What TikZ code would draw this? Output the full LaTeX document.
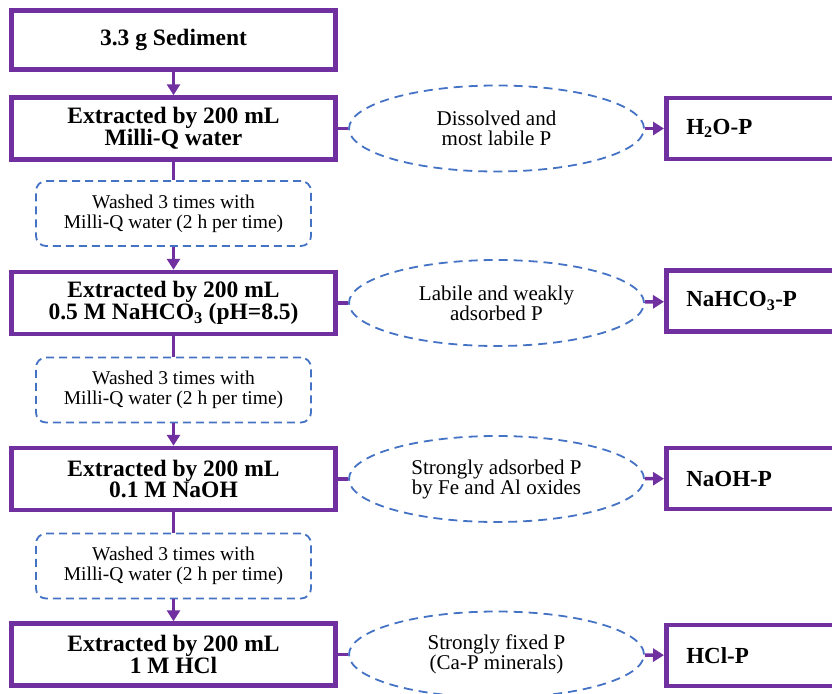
\documentclass[tikz,border=0pt]{standalone}
\usepackage{fontspec}
\setmainfont{Liberation Serif}
\usetikzlibrary{shapes,arrows.meta}
\definecolor{purp}{HTML}{7030A0}
\definecolor{dashblue}{HTML}{4472C4}
\tikzset{
  extbox/.style={draw=purp,line width=4.5pt,fill=white,minimum width=324pt,minimum height=62pt,align=center,font=\fontsize{23.5}{20.5}\selectfont\bfseries},
  washbox/.style={draw=dashblue,line width=1.8pt,dash pattern=on 8pt off 5pt,rounded corners=10pt,minimum width=275pt,minimum height=65pt,align=center,font=\fontsize{19.5}{20}\selectfont},
  formell/.style={ellipse,draw=dashblue,line width=1.8pt,dash pattern=on 9pt off 6pt,minimum width=295pt,minimum height=86pt,inner sep=0pt,align=center,font=\fontsize{21}{20}\selectfont},
  fracbox/.style={draw=purp,line width=4.5pt,anchor=west,minimum width=200pt,minimum height=61pt,text width=160pt,inner xsep=20pt,align=left,font=\fontsize{23}{20}\selectfont\bfseries},
  link/.style={draw=purp,line width=3.5pt}
}
\begin{document}
\begin{tikzpicture}[x=1pt,y=-1pt,>={Triangle[length=11pt,width=13pt]}]
\clip (0,0) rectangle (832,693);
% extraction steps
\node[extbox,minimum height=59pt] (sed) at (173.5,40) {3.3 g Sediment};
\node[extbox] (ex1) at (173.5,128.5) {Extracted by 200 mL\\Milli-Q water};
\node[extbox] (ex2) at (173.5,303) {Extracted by 200 mL\\0.5 M NaHCO\textsubscript{3} (pH=8.5)};
\node[extbox] (ex3) at (173.5,479) {Extracted by 200 mL\\0.1 M NaOH};
\node[extbox] (ex4) at (173.5,654.5) {Extracted by 200 mL\\1 M HCl};
% washing
\foreach \i/\y in {1/213.5,2/390,3/566}{\node[washbox] (w\i) at (173.5,\y) {Washed 3 times with\\Milli-Q water (2 h per time)};}
% fractions
\node[formell] (f1) at (496.5,128.5) {Dissolved and\\most labile P};
\node[formell] (f2) at (496.5,303) {Labile and weakly\\adsorbed P};
\node[formell] (f3) at (496.5,479) {Strongly adsorbed P\\by Fe and Al oxides};
\node[formell] (f4) at (496.5,654.5) {Strongly fixed P\\(Ca-P minerals)};
\node[fracbox] (p1) at (664,128.5) {H\textsubscript{2}O-P};
\node[fracbox] (p2) at (664,301) {NaHCO\textsubscript{3}-P};
\node[fracbox] (p3) at (664,478.5) {NaOH-P};
\node[fracbox] (p4) at (664,655.5) {HCl-P};
\draw[link,->] (sed) -- (ex1);
\foreach \i [evaluate=\i as \j using int(\i+1)] in {1,2,3}{
  \draw[link] (ex\i) -- (w\i);
  \draw[link,->] (w\i) -- (ex\j);}
\foreach \i in {1,...,4}{
  \draw[link] (ex\i) -- (f\i);
  \draw[link,->] (f\i) -- (p\i);}
\end{tikzpicture}
\end{document}
